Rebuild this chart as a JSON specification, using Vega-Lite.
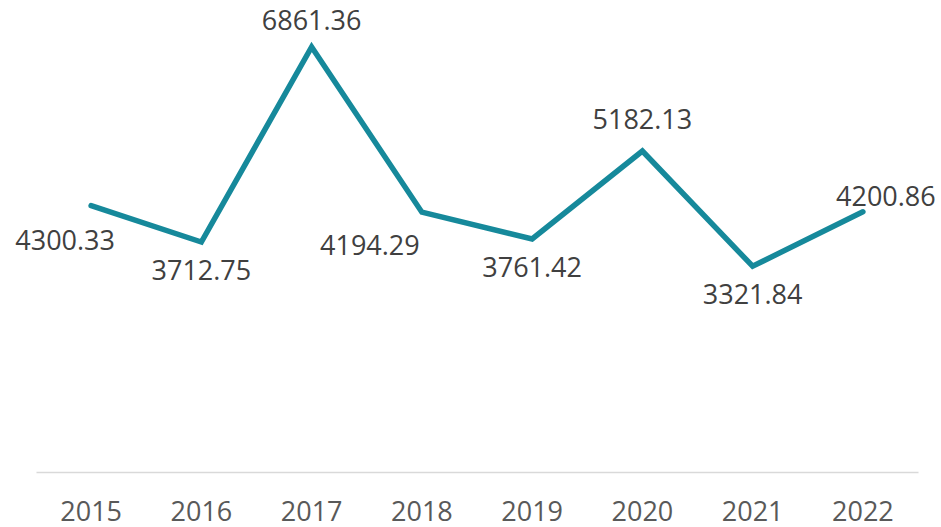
{
  "$schema": "https://vega.github.io/schema/vega-lite/v6.json",
  "autosize": "none",
  "padding": {"left": 36, "top": 0, "right": 23, "bottom": 55},
  "width": 882,
  "height": 472,
  "background": "white",
  "config": {"view": {"stroke": null}, "font": "Open Sans"},
  "data": {"values": [
    {"year": "2015", "value": 4300.33},
    {"year": "2016", "value": 3712.75},
    {"year": "2017", "value": 6861.36},
    {"year": "2018", "value": 4194.29},
    {"year": "2019", "value": 3761.42},
    {"year": "2020", "value": 5182.13},
    {"year": "2021", "value": 3321.84},
    {"year": "2022", "value": 4200.86}
  ]},
  "encoding": {
    "x": {"field": "year", "type": "ordinal", "scale": {"type": "band", "paddingInner": 0, "paddingOuter": 0},
      "axis": {"title": null, "ticks": false, "domainColor": "#d9d9d9", "domainWidth": 1.5, "labelAngle": 0, "labelFontSize": 27, "labelColor": "#595959", "labelPadding": 27, "labelFont": "Open Sans"}},
    "y": {"field": "value", "type": "quantitative", "scale": {"domain": [0, 7620], "nice": false, "zero": true}, "axis": null}
  },
  "layer": [
    {"mark": {"type": "line", "color": "#16899B", "strokeWidth": 5.5, "strokeJoin": "miter", "strokeCap": "round"}},
    {"transform": [{"filter": {"field": "year", "oneOf": ["2016", "2019", "2021"]}}],
     "mark": {"type": "text", "fontSize": 27, "color": "#404040", "baseline": "middle", "align": "center", "dy": 30},
     "encoding": {"text": {"field": "value", "type": "quantitative", "format": ".2f"}}},
    {"transform": [{"filter": {"field": "year", "equal": "2017"}}],
     "mark": {"type": "text", "fontSize": 27, "color": "#404040", "baseline": "middle", "align": "center", "dy": -25},
     "encoding": {"text": {"field": "value", "type": "quantitative", "format": ".2f"}}},
    {"transform": [{"filter": {"field": "year", "equal": "2020"}}],
     "mark": {"type": "text", "fontSize": 27, "color": "#404040", "baseline": "middle", "align": "center", "dy": -30},
     "encoding": {"text": {"field": "value", "type": "quantitative", "format": ".2f"}}},
    {"transform": [{"filter": {"field": "year", "equal": "2015"}}],
     "mark": {"type": "text", "fontSize": 27, "color": "#404040", "baseline": "middle", "align": "center", "dx": -26, "dy": 36},
     "encoding": {"text": {"field": "value", "type": "quantitative", "format": ".2f"}}},
    {"transform": [{"filter": {"field": "year", "equal": "2018"}}],
     "mark": {"type": "text", "fontSize": 27, "color": "#404040", "baseline": "middle", "align": "center", "dx": -52, "dy": 35},
     "encoding": {"text": {"field": "value", "type": "quantitative", "format": ".2f"}}},
    {"transform": [{"filter": {"field": "year", "equal": "2022"}}],
     "mark": {"type": "text", "fontSize": 27, "color": "#404040", "baseline": "middle", "align": "center", "dx": 23, "dy": -14},
     "encoding": {"text": {"field": "value", "type": "quantitative", "format": ".2f"}}}
  ]
}
